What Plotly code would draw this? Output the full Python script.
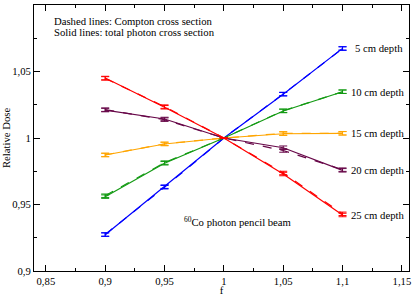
import plotly.graph_objects as go

f = [0.9, 0.95, 1.0, 1.05, 1.1]
depths = ["5 cm depth", "10 cm depth", "15 cm depth", "20 cm depth", "25 cm depth"]
colors = ["#0000ff", "#139a13", "#ffa500", "#670748", "#ff0000"]

# Solid lines: total photon cross section
total = [
    [0.9273, 0.9634, 1.0, 1.0329, 1.0674],
    [0.9559, 0.9810, 1.0, 1.0203, 1.0348],
    [0.9872, 0.9955, 1.0, 1.0032, 1.0035],
    [1.0210, 1.0143, 1.0, 0.9927, 0.9757],
    [1.0451, 1.0231, 1.0, 0.9729, 0.9421],
]
# Dashed lines: Compton cross section
compton = [
    [0.9275, 0.9630, 1.0, 1.0331, 1.0672],
    [0.9566, 0.9815, 1.0, 1.0205, 1.0348],
    [0.9873, 0.9956, 1.0, 1.0035, 1.0036],
    [1.0213, 1.0138, 1.0, 0.9906, 0.9762],
    [1.0448, 1.0236, 1.0, 0.9737, 0.9430],
]
err = [0.0013, 0.0013, 0.0, 0.0013, 0.0013]

xticks = [0.85, 0.9, 0.95, 1.0, 1.05, 1.1, 1.15]
xticktext = ["0,85", "0,9", "0,95", "1", "1,05", "1,1", "1,15"]
yticks = [0.9, 0.95, 1.0, 1.05, 1.1]
yticktext = ["0,9", "0,95", "1", "1,05", "1,1"]

font = "Liberation Serif, Times New Roman, serif"
fs = 10.7

fig = go.Figure()
for i in range(len(depths)):
    fig.add_trace(go.Scatter(
        x=f, y=compton[i], mode="lines",
        line=dict(color=colors[i], width=1.2, dash="dash"),
        error_y=dict(type="data", array=err, color=colors[i], thickness=1, width=4),
        showlegend=False, hoverinfo="skip"))
    fig.add_trace(go.Scatter(
        x=f, y=total[i], mode="lines",
        line=dict(color=colors[i], width=1.2),
        error_y=dict(type="data", array=err, color=colors[i], thickness=1, width=4),
        showlegend=False, name=depths[i]))
    fig.add_annotation(x=1.1055 if i else 1.109, y=total[i][-1], text=depths[i],
                       xref="x", yref="y", xanchor="left", yanchor="middle", align="left",
                       showarrow=False, font=dict(family=font, size=fs, color="black"))

fig.add_annotation(x=0.855, y=1.088, text="Dashed lines: Compton cross section",
                   xanchor="left", yanchor="middle", align="left", showarrow=False,
                   font=dict(family=font, size=fs, color="black"))
fig.add_annotation(x=0.855, y=1.0795, text="Solid lines: total photon cross section",
                   xanchor="left", yanchor="middle", align="left", showarrow=False,
                   font=dict(family=font, size=fs, color="black"))
fig.add_annotation(x=0.9645, y=0.9375, text="<sup>60</sup>Co photon pencil beam",
                   xanchor="left", yanchor="middle", align="left", showarrow=False,
                   font=dict(family=font, size=fs, color="black"))

axis_common = dict(showline=True, linecolor="black", linewidth=1, mirror="ticks",
                   ticks="inside", ticklen=6, tickcolor="black", showgrid=False,
                   zeroline=False, automargin=False,
                   tickfont=dict(family=font, size=fs, color="black"))

fig.update_layout(
    width=415, height=296,
    margin=dict(l=34, r=6, t=5, b=25),
    paper_bgcolor="white", plot_bgcolor="white",
    xaxis=dict(range=[0.84, 1.156], tickvals=xticks, ticktext=xticktext,
               minor=dict(dtick=0.025, tick0=0.85, ticks="inside", ticklen=3, tickcolor="black"),
               title=dict(text="f", font=dict(family=font, size=fs, color="black"), standoff=2),
               **axis_common),
    yaxis=dict(range=[0.9, 1.1], tickvals=yticks, ticktext=yticktext,
               minor=dict(dtick=0.025, tick0=0.9, ticks="inside", ticklen=3, tickcolor="black"),
               title=dict(text="Relative Dose", font=dict(family=font, size=fs, color="black"), standoff=3),
               **axis_common),
)

fig.write_html("out.html", config={"displayModeBar": False},
               post_script="document.body.style.margin='0';document.body.style.overflow='hidden';")
